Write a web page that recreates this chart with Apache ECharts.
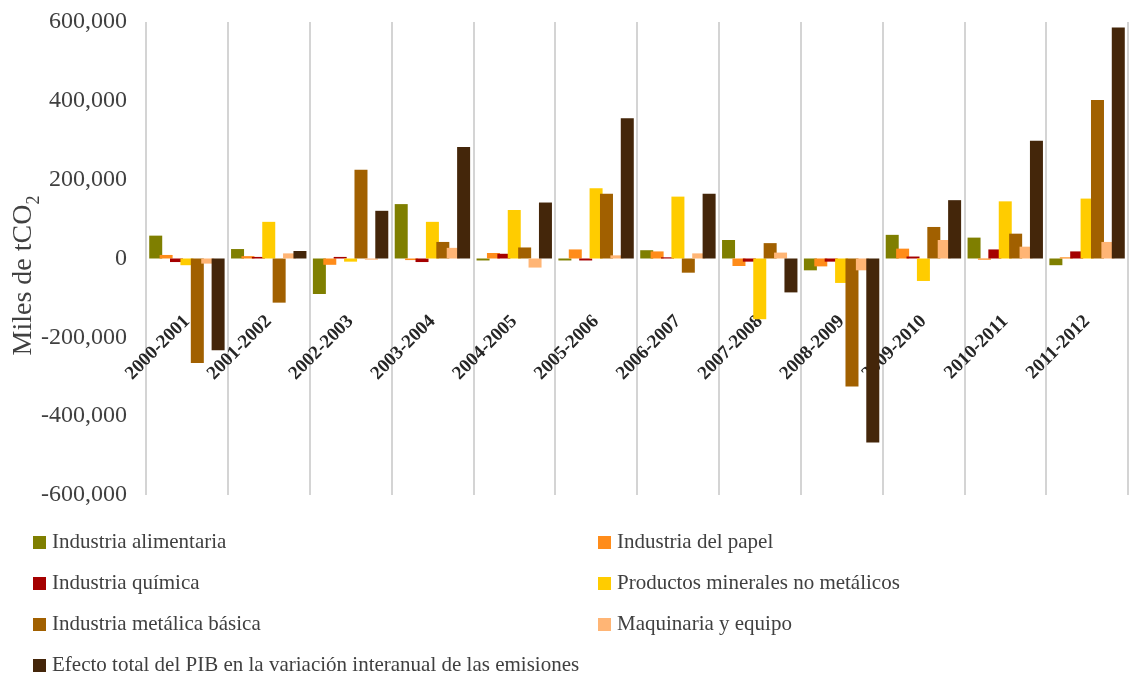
<!DOCTYPE html>
<html>
<head>
<meta charset="utf-8">
<script src="https://cdn.jsdelivr.net/npm/echarts@6/dist/echarts.min.js"></script>
<style>
	html, body { margin: 0; padding: 0; background: #fff; }
	#main { width: 1130px; height: 674px; }
</style>
</head>
<body>
<div id="main"></div>
<script>
let categories = ['2000-2001', '2001-2002', '2002-2003', '2003-2004', '2004-2005', '2005-2006',
	'2006-2007', '2007-2008', '2008-2009', '2009-2010', '2010-2011', '2011-2012'];

let alimentaria = [58000, 24000, -90000, 138000, -5000, -5000, 21000, 47000, -30000, 60000, 53000, -17000];
let papel = [9000, 6000, -16000, -4000, 14000, 23000, 18000, -19000, -20000, 25000, -3000, 3000];
let quimica = [-9000, 4000, 4000, -9000, 12000, -5000, 3000, -8000, -8000, 5000, 23000, 18000];
let minerales = [-17000, 93000, -8000, 93000, 123000, 178000, 157000, -154000, -62000, -57000, 145000, 152000];
let metalica = [-265000, -112000, 225000, 42000, 28000, 164000, -36000, 39000, -325000, 80000, 63000, 402000];
let maquinaria = [-13000, 13000, -3000, 27000, -23000, 8000, 13000, 15000, -30000, 47000, 30000, 42000];
let efectoTotal = [-233000, 19000, 121000, 283000, 142000, 356000, 164000, -86000, -467000, 148000, 299000, 586000];

let seriesNames = ['Industria alimentaria', 'Industria del papel', 'Industria química',
	'Productos minerales no metálicos', 'Industria metálica básica', 'Maquinaria y equipo',
	'Efecto total del PIB en la variación interanual de las emisiones'];
let seriesData = [alimentaria, papel, quimica, minerales, metalica, maquinaria, efectoTotal];
let colors = ['#7f7f00', '#ff8c1a', '#a50000', '#ffcc00', '#a16000', '#ffb575', '#44260a'];

let chartDom = document.getElementById('main');
let myChart = echarts.init(chartDom);
let option;

let font = 'Liberation Serif, Times New Roman, serif';

let series = [];
for (let i = 0; i < seriesNames.length; i++) {
	series.push({
		name: seriesNames[i],
		type: 'bar',
		data: seriesData[i],
		barWidth: 13,
		barGap: '-20%',
		itemStyle: { color: colors[i] }
	});
}

// legend: two columns, row-major order, one legend per item
let legends = [];
for (let i = 0; i < seriesNames.length; i++) {
	let row = Math.floor(i / 2);
	let col = i % 2;
	legends.push({
		left: col === 0 ? 28 : 593,
		top: 527 + row * 41,
		itemWidth: 13,
		itemHeight: 13,
		icon: 'rect',
		data: [seriesNames[i]],
		textStyle: { fontFamily: font, fontSize: 21, color: '#404040', lineHeight: 21, padding: [0, 0, 0, 1] }
	});
}

option = {
	animation: false,
	color: colors,
	grid: { left: 146, right: 2, top: 22, bottom: 179, outerBoundsMode: 'none' },
	legend: legends,
	xAxis: {
		type: 'category',
		data: categories,
		offset: -236.5, // labels sit under the zero line
		axisLine: { show: false, onZero: false },
		axisTick: { show: false },
		splitLine: { show: true, interval: 0, lineStyle: { color: '#d4d4d4', width: 2 } },
		axisLabel: {
			interval: 0,
			rotate: 45,
			margin: 60,
			fontFamily: font,
			fontWeight: 'bold',
			fontSize: 19,
			color: '#262626'
		}
	},
	yAxis: {
		type: 'value',
		min: -600000,
		max: 600000,
		interval: 200000,
		axisLine: { show: false },
		axisTick: { show: false },
		splitLine: { show: false },
		axisLabel: {
			margin: 19,
			fontFamily: font,
			fontSize: 24,
			color: '#404040',
			formatter: (v) => v.toLocaleString('en-US')
		},
		name: '{a|Miles de tCO}{b|2}',
		nameLocation: 'middle',
		nameGap: 108,
		nameRotate: 90,
		nameMoveOverlap: false,
		nameTextStyle: {
			padding: [0, 34, 0, 0],
			rich: {
				a: { fontFamily: font, fontSize: 28, color: '#404040', lineHeight: 28, verticalAlign: 'top' },
				b: { fontFamily: font, fontSize: 18, color: '#404040', lineHeight: 18, verticalAlign: 'top', padding: [15, 0, 0, 0] }
			}
		}
	},
	series: series
};

myChart.setOption(option);
</script>
</body>
</html>
